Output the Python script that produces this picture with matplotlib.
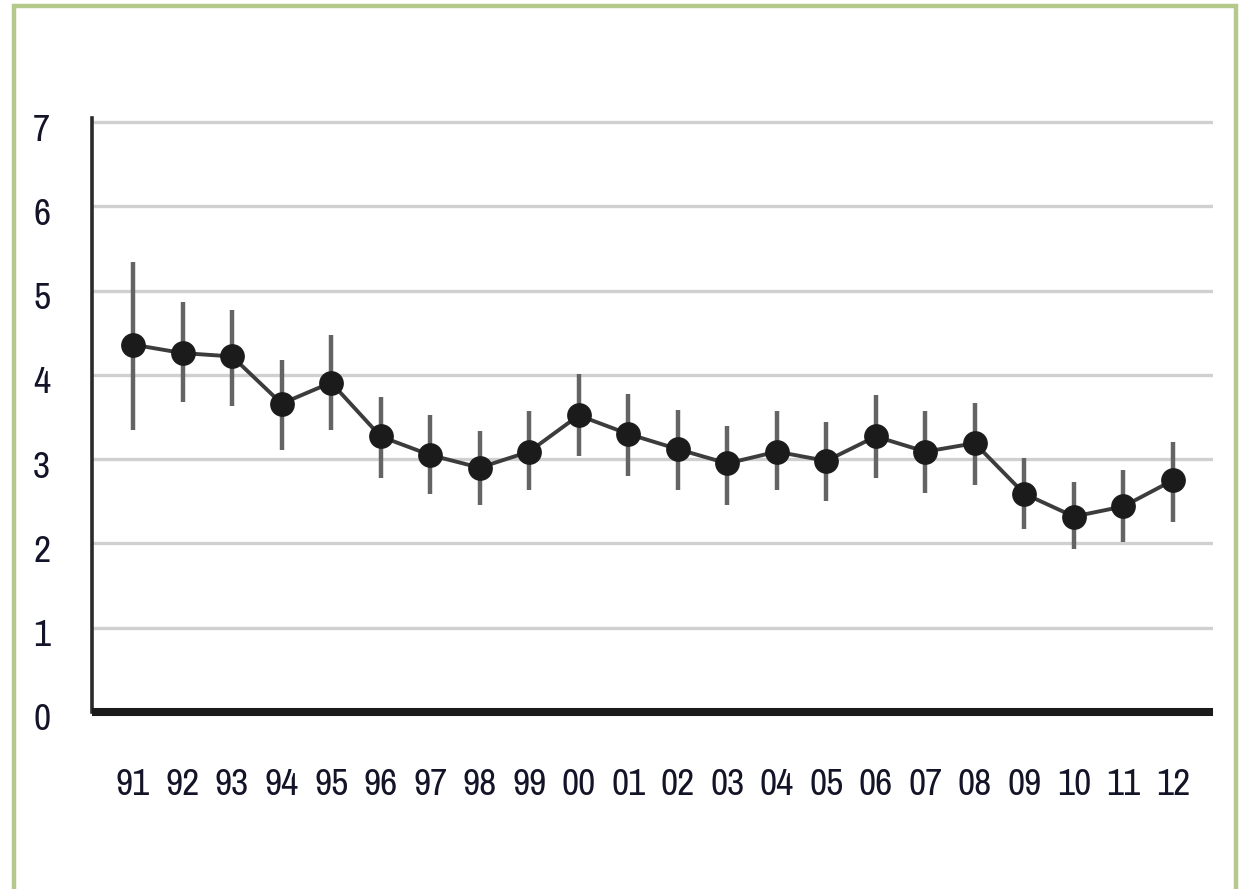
import numpy as np
import matplotlib
matplotlib.use('Agg')
import matplotlib.pyplot as plt
import matplotlib.transforms as mtransforms
from matplotlib.patches import Rectangle

years = ['91', '92', '93', '94', '95', '96', '97', '98', '99', '00', '01',
         '02', '03', '04', '05', '06', '07', '08', '09', '10', '11', '12']
mean = [4.36, 4.26, 4.22, 3.66, 3.91, 3.27, 3.05, 2.90, 3.09, 3.52, 3.30,
        3.12, 2.95, 3.09, 2.98, 3.27, 3.09, 3.19, 2.59, 2.32, 2.44, 2.75]
upper = [5.34, 4.87, 4.77, 4.18, 4.48, 3.74, 3.52, 3.34, 3.57, 4.01, 3.77,
         3.58, 3.39, 3.57, 3.44, 3.76, 3.57, 3.67, 3.01, 2.73, 2.87, 3.20]
lower = [3.35, 3.68, 3.63, 3.11, 3.35, 2.78, 2.59, 2.46, 2.64, 3.04, 2.80,
         2.64, 2.46, 2.64, 2.50, 2.78, 2.60, 2.69, 2.17, 1.93, 2.02, 2.26]
yticks = [0, 1, 2, 3, 4, 5, 6, 7]

plt.rcParams['font.family'] = ['Archivo Narrow', 'DejaVu Sans']
plt.rcParams['font.weight'] = 500

fig = plt.figure(figsize=(12.4, 8.89), dpi=100)
fig.set_facecolor('white')
ax = fig.add_axes([92 / 1240, 1 - 712 / 889, (1213 - 92) / 1240, (712 - 118) / 889])

x = np.arange(len(years))
m = np.array(mean)
yerr = [m - np.array(lower), np.array(upper) - m]

ax.errorbar(x, m, yerr=yerr, fmt='none', ecolor='#646464', elinewidth=3.2,
            capsize=0, zorder=3)
ax.plot(x, m, color='#3c3c3c', linewidth=2.8, zorder=4)
ax.plot(x, m, 'o', color='#1b1b1b', markersize=16.8, zorder=5)

ax.set_xlim(-0.83, 21.81)
ax.set_ylim(0, 7.05)
ax.set_xticks(x)
ax.set_xticklabels(years)
ax.set_yticks(yticks)
ax.yaxis.grid(True, color='#d0d0d0', linewidth=2.4)
ax.set_axisbelow(True)

for s in ['top', 'right']:
    ax.spines[s].set_visible(False)
ax.spines['left'].set_color('#2a2a2a')
ax.spines['left'].set_linewidth(2.6)
ax.spines['bottom'].set_color('#1b1b1b')
ax.spines['bottom'].set_linewidth(5.8)
ax.spines['bottom'].set_capstyle('butt')

ax.tick_params(axis='x', length=0, pad=40, labelsize=27, labelcolor='#141428')
ax.tick_params(axis='y', length=0, pad=30, labelsize=27, labelcolor='#141428')

# y labels sit a little below their gridlines
offset = mtransforms.ScaledTranslation(0, -5 / 100, fig.dpi_scale_trans)
for lab in ax.get_yticklabels():
    lab.set_transform(lab.get_transform() + offset)

# green frame around the whole panel
fig.patches.append(Rectangle((14 / 1240, -0.05), (1236 - 14) / 1240, 1.05 - 6 / 889,
                             transform=fig.transFigure, fill=False,
                             edgecolor='#b5c98a', linewidth=3.2))

fig.savefig('out.png', dpi=100)
